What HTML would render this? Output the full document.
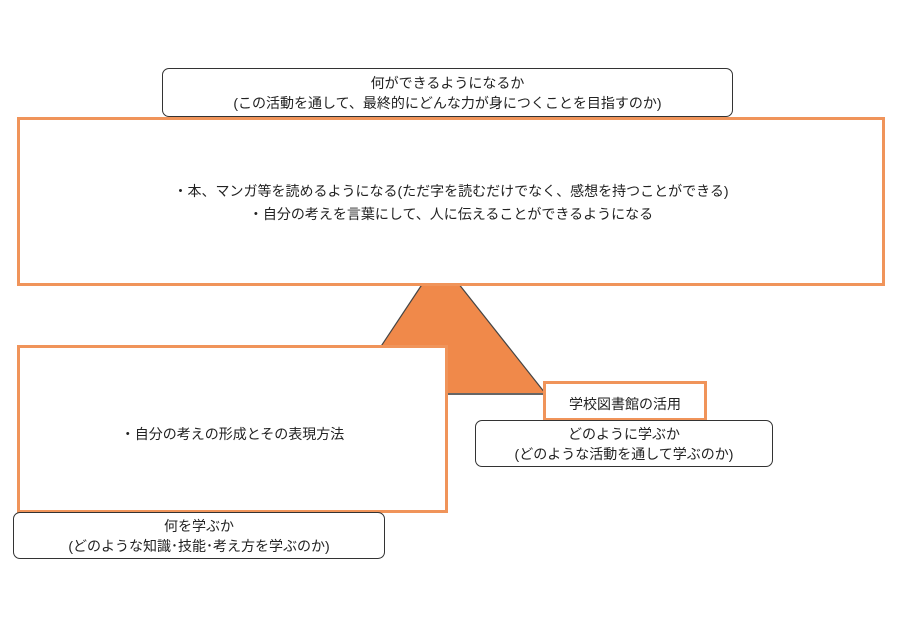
<!DOCTYPE html>
<html><head><meta charset="utf-8"><style>
body{margin:0;width:897px;height:634px;background:#fff;position:relative;overflow:hidden;font-family:"Liberation Sans","Noto Sans CJK JP",sans-serif;color:#222;font-size:14px}
.b{position:absolute;box-sizing:border-box;text-align:center;background:#fff}
.r{border:1.5px solid #333;border-radius:7px;line-height:20px}
.o{border:3px solid #f0945a}
</style></head><body>
<svg width="897" height="634" style="position:absolute;left:0;top:0">
<polygon points="423,283 458,283 545,393 350,393" fill="#f0894a"/>
<line x1="458" y1="283" x2="545" y2="393" stroke="#444" stroke-width="1.2"/>
<line x1="423" y1="283" x2="350" y2="393" stroke="#444" stroke-width="1.2"/>
<line x1="440" y1="394" x2="545" y2="394" stroke="#333" stroke-width="1.5"/>
</svg>
<div class="b r" style="left:162px;top:68px;width:571px;height:49px;padding-top:4px">何ができるようになるか<br>(この活動を通して、最終的にどんな力が身につくことを目指すのか)</div>
<div class="b o" style="left:17px;top:117px;width:868px;height:169px;padding-top:60px;line-height:23px">・本、マンガ等を読めるようになる(ただ字を読むだけでなく、感想を持つことができる)<br>・自分の考えを言葉にして、人に伝えることができるようになる</div>
<div class="b o" style="left:17px;top:345px;width:431px;height:168px;padding-top:76px">・自分の考えの形成とその表現方法</div>
<div class="b o" style="left:543px;top:381px;width:164px;height:40px;padding-top:10px">学校図書館の活用</div>
<div class="b r" style="left:475px;top:420px;width:298px;height:47px;padding-top:3px">どのように学ぶか<br>(どのような活動を通して学ぶのか)</div>
<div class="b r" style="left:13px;top:512px;width:372px;height:47px;padding-top:3px">何を学ぶか<br>(どのような知識･技能･考え方を学ぶのか)</div>
</body></html>
